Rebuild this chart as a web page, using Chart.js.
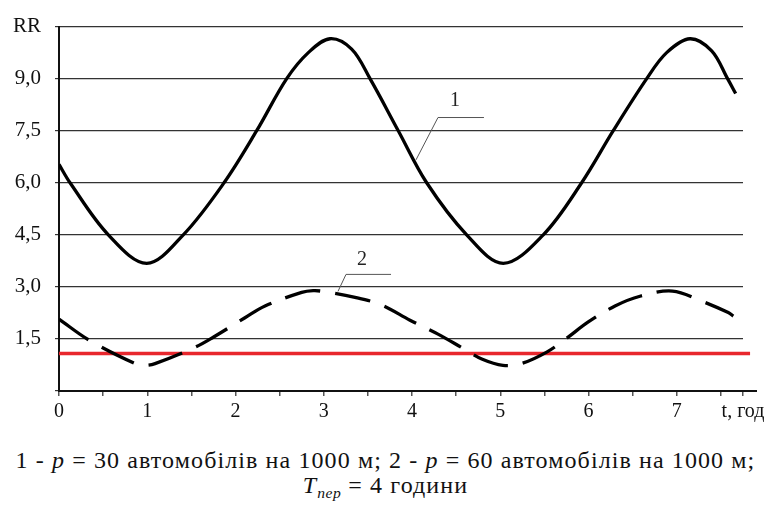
<!DOCTYPE html>
<html><head><meta charset="utf-8">
<script src="https://cdn.jsdelivr.net/npm/chart.js@4.4.1/dist/chart.umd.min.js"></script>
<style>
html,body{margin:0;padding:0;background:#fff;width:771px;height:506px;overflow:hidden;}
#wrap{position:relative;width:771px;height:506px;}
#c{position:absolute;left:0;top:0;}
.cap{position:absolute;left:0;width:771px;text-align:center;font-family:"Liberation Serif","DejaVu Serif","Times New Roman",Times,serif;color:#111;white-space:nowrap;line-height:1;letter-spacing:1.1px;}
.cap sub{font-size:65%;vertical-align:-0.35em;letter-spacing:0.5px;}
</style></head>
<body><div id="wrap"><canvas id="c" width="771" height="440"></canvas>
<div class="cap" id="cap1" style="top:448px;font-size:24px;">1 - <i>p</i> = 30 автомобілів на 1000 м; 2 - <i>p</i> = 60 автомобілів на 1000 м;</div>
<div class="cap" id="cap2" style="top:473px;font-size:24px;"><i>T</i><sub><i>пер</i></sub> = 4 години</div>
</div>
<script>
// Curve 1: p = 30 cars / 1000 m
const t1 = [0, 0.125, 0.559, 0.994, 1.408, 1.870, 2.240, 2.580, 2.825, 3.070, 3.316, 3.524, 3.844, 4.166, 4.619, 5.034, 5.487, 5.922, 6.280, 6.659, 6.885, 7.149, 7.395, 7.575, 7.667];
const rr1 = [6.53, 6.0, 4.5, 3.68, 4.5, 6.0, 7.5, 9.0, 9.75, 10.15, 9.85, 9.0, 7.5, 6.0, 4.5, 3.68, 4.5, 6.0, 7.5, 9.0, 9.75, 10.15, 9.80, 9.0, 8.57];
// Curve 2: p = 60 cars / 1000 m
const t2 = [0, 0.351, 0.861, 0.974, 1.088, 1.541, 1.748, 2.107, 2.334, 2.750, 2.880, 2.991, 3.354, 3.656, 3.977, 4.294, 4.577, 4.790, 5.030, 5.250, 5.526, 5.752, 5.997, 6.300, 6.583, 6.950, 7.282, 7.583, 7.640];
const rr2 = [2.07, 1.45, 0.79, 0.74, 0.79, 1.26, 1.55, 2.11, 2.45, 2.84, 2.89, 2.87, 2.70, 2.48, 2.04, 1.64, 1.23, 0.92, 0.74, 0.80, 1.12, 1.52, 1.99, 2.45, 2.73, 2.88, 2.59, 2.26, 2.16];
// Threshold line (red)
const tLimit = [0, 7.83];
const rrLimit = [1.08, 1.08];
// Axis ticks
const xTickValues = [0, 0.5, 1, 1.5, 2, 2.5, 3, 3.5, 4, 4.5, 5, 5.5, 6, 6.5, 7, 7.5, 7.75];
const xTickLabels = {0: "0", 1: "1", 2: "2", 3: "3", 4: "4", 5: "5", 6: "6", 7: "7", 7.75: "t, год"};
const yTickValues = [0, 1.5, 3, 4.5, 6, 7.5, 9, 10.5];
const yTickLabels = ["", "1,5", "3,0", "4,5", "6,0", "7,5", "9,0", "RR"];
// Curve labels (leader lines)
const curveLabels = ["1", "2"];
const leaderT = [[4.045, 4.294, 4.815], [3.161, 3.252, 3.762]];
const leaderRR = [[6.66, 7.88, 7.88], [2.87, 3.36, 3.36]];
const labelT = [4.487, 3.433];
const labelRR = [8.37, 3.78];

const toXY = (xs, ys) => xs.map((x, i) => ({x: x, y: ys[i]}));
const SERIF = '"Liberation Serif", "DejaVu Serif", "Times New Roman", Times, serif';

const annot = {
  id: 'annot',
  afterDatasetsDraw(chart) {
    const {ctx, scales: {x, y}, chartArea} = chart;
    ctx.save();
    ctx.strokeStyle = '#111'; ctx.lineWidth = 2;
    ctx.beginPath();
    ctx.moveTo(chartArea.right - 1, y.getPixelForValue(0));
    ctx.lineTo(chartArea.right + 14, y.getPixelForValue(0));
    ctx.stroke();
    curveLabels.forEach((lab, k) => {
      ctx.strokeStyle = '#555'; ctx.lineWidth = 1;
      ctx.beginPath();
      leaderT[k].forEach((tv, i) => {
        const px = x.getPixelForValue(tv), py = y.getPixelForValue(leaderRR[k][i]);
        if (i === 0) ctx.moveTo(px, py); else ctx.lineTo(px, py);
      });
      ctx.stroke();
      ctx.fillStyle = '#222';
      ctx.font = '20px ' + SERIF;
      ctx.textAlign = 'center'; ctx.textBaseline = 'middle';
      ctx.fillText(lab, x.getPixelForValue(labelT[k]), y.getPixelForValue(labelRR[k]));
    });
    ctx.restore();
  }
};

new Chart(document.getElementById('c'), {
  type: 'scatter',
  data: {
    datasets: [
      {data: toXY(tLimit, rrLimit), showLine: true, borderColor: '#e8272d', borderWidth: 3.5, pointRadius: 0, clip: false, order: 3},
      {data: toXY(t1, rr1), showLine: true, borderColor: '#000', borderWidth: 3.3, pointRadius: 0, tension: 0.35, order: 1},
      {data: toXY(t2, rr2), showLine: true, borderColor: '#000', borderWidth: 3.3, borderDash: [36, 15], pointRadius: 0, tension: 0.35, order: 2}
    ]
  },
  options: {
    responsive: false, animation: false, devicePixelRatio: 1,
    layout: {padding: {top: 22, right: 28, left: 0, bottom: 0}},
    plugins: {legend: {display: false}, tooltip: {enabled: false}},
    scales: {
      x: {
        type: 'linear', min: 0, max: 7.75,
        afterBuildTicks: s => { s.ticks = xTickValues.map(v => ({value: v})); },
        afterFit: s => { s.height = 49; },
        grid: {drawOnChartArea: false, drawTicks: true, tickLength: 5, color: '#555', lineWidth: 1.5},
        border: {display: true, color: '#111', width: 2},
        ticks: {
          autoSkip: false, maxRotation: 0, padding: 4, color: '#111',
          font: {family: SERIF, size: 20},
          callback: v => (xTickLabels[v] !== undefined ? xTickLabels[v] : '')
        }
      },
      y: {
        type: 'linear', min: 0, max: 10.5,
        afterBuildTicks: s => { s.ticks = yTickValues.map(v => ({value: v})); },
        afterFit: s => { s.width = 59; },
        grid: {color: '#333', lineWidth: 1.2, tickLength: 4},
        border: {display: true, color: '#111', width: 2},
        ticks: {
          padding: 14, color: '#111',
          font: {family: SERIF, size: 21},
          callback: v => { const i = yTickValues.indexOf(v); return i >= 0 ? yTickLabels[i] : ''; }
        }
      }
    }
  },
  plugins: [annot]
});
</script>
</body></html>
